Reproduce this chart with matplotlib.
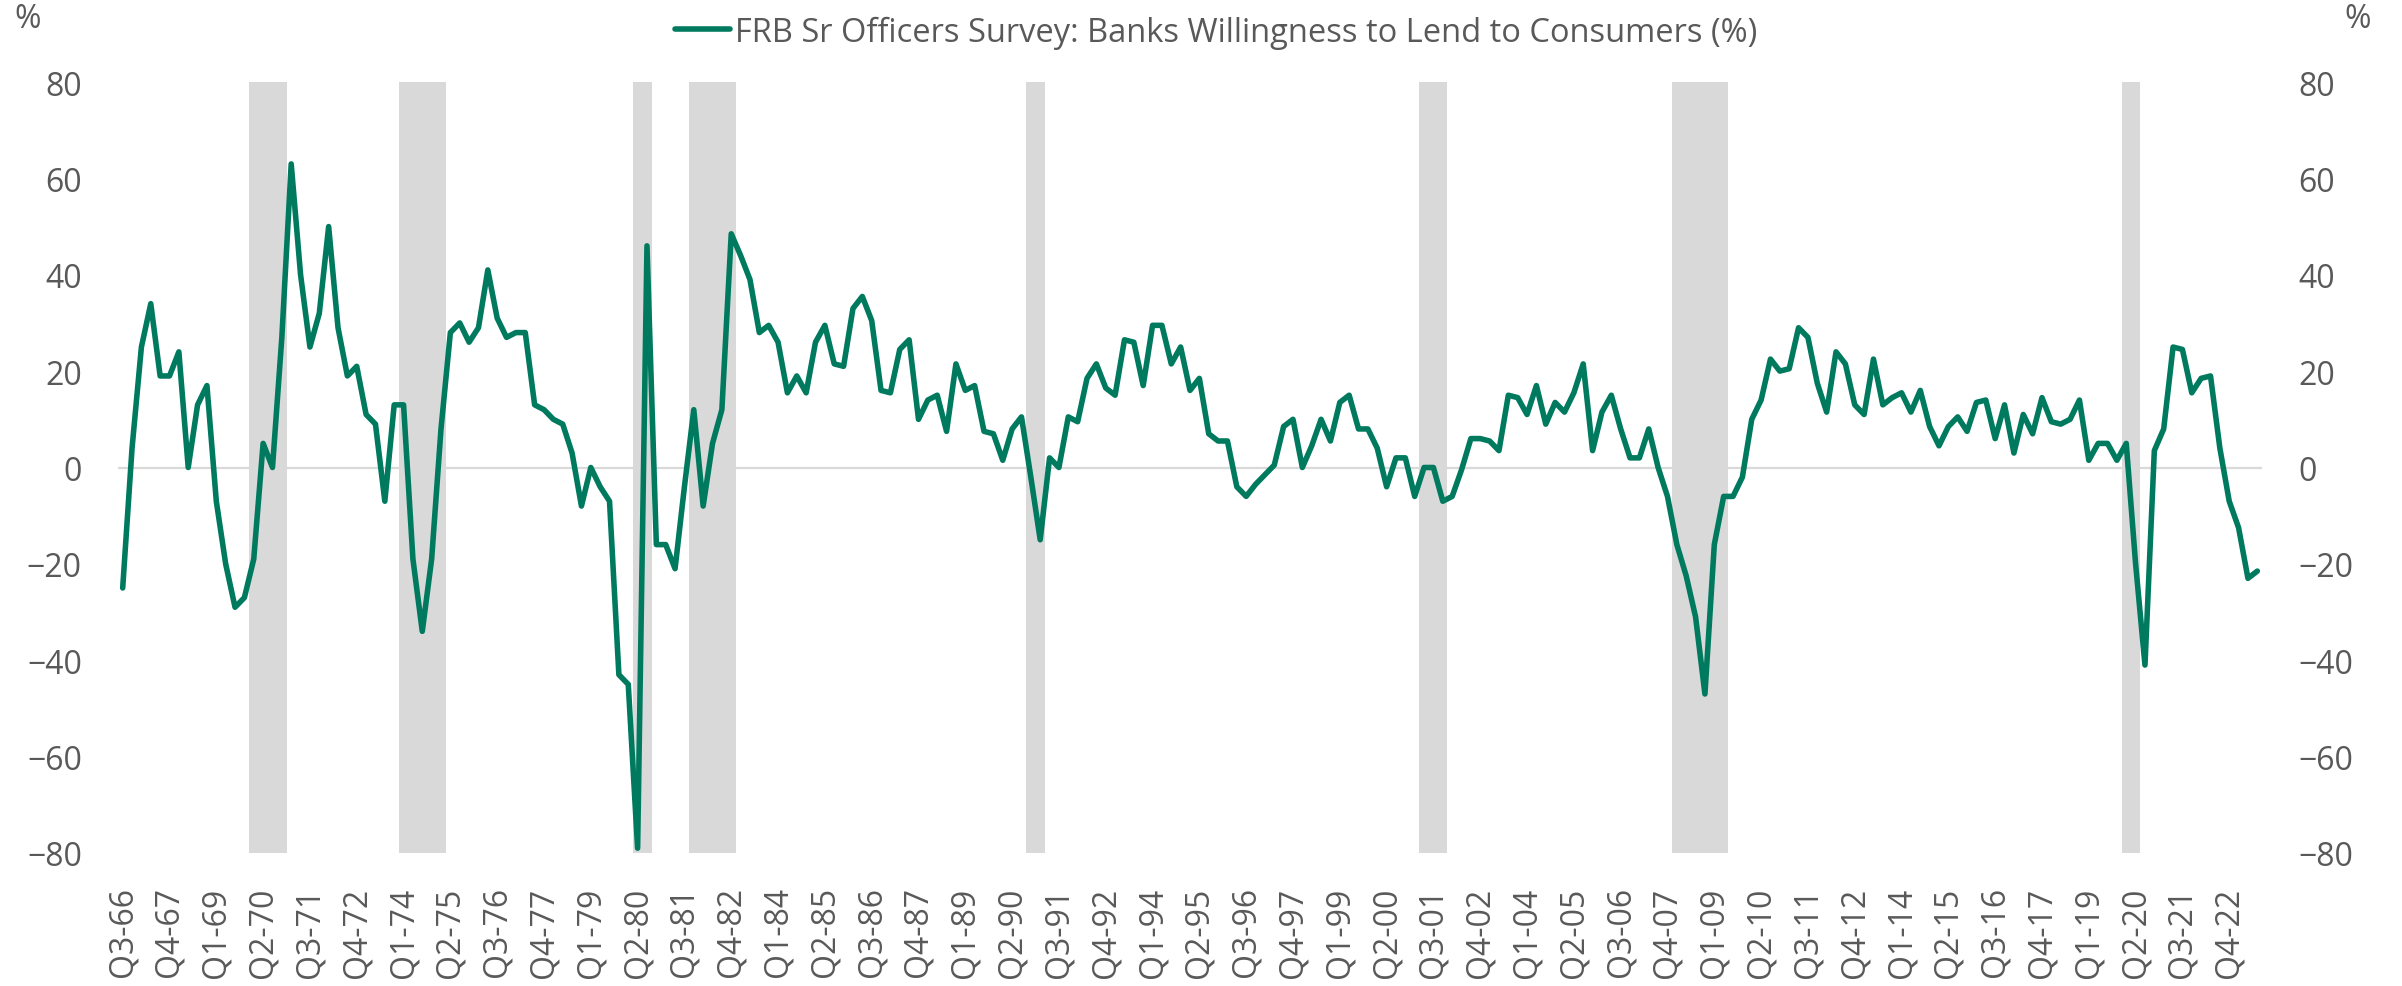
import numpy as np
import matplotlib
matplotlib.use("Agg")
import matplotlib.pyplot as plt

plt.rcParams['font.family'] = ['Open Sans', 'DejaVu Sans']

# quarterly categories Q3-66 .. Q3-23
start_year, start_q = 1966, 3
values = [
    -25, 4, 25, 34, 19, 19, 24, 0, 13, 17,
    -7, -20, -29, -27, -19, 5, 0, 27, 63, 40,
    25, 32, 50, 29, 19, 21, 11, 9, -7, 13,
    13, -19, -34, -19, 8, 28, 30, 26, 29, 41,
    31, 27, 28, 28, 13, 12, 10, 9, 3, -8,
    0, -4, -7, -43, -45, -79, 46, -16, -16, -21,
    -4, 12, -8, 5, 12, 48.5, 44, 39, 28, 29.5,
    26, 15.5, 19, 15.5, 26, 29.5, 21.5, 21, 33, 35.5,
    30.5, 16, 15.5, 24.5, 26.5, 10, 14, 15, 7.5, 21.5,
    16, 17, 7.5, 7, 1.5, 8, 10.5, -2, -15, 2,
    0, 10.5, 9.5, 18.5, 21.5, 16.5, 15, 26.5, 26, 17,
    29.5, 29.5, 21.5, 25, 16, 18.5, 7, 5.5, 5.5, -4,
    -6, -3.5, -1.5, 0.5, 8.5, 10, 0, 4.5, 10, 5.5,
    13.5, 15, 8, 8, 4, -4, 2, 2, -6, 0,
    0, -7, -6, -0.5, 6, 6, 5.5, 3.5, 15, 14.5,
    11, 17, 9, 13.5, 11.5, 15.5, 21.5, 3.5, 11.5, 15,
    8, 2, 2, 8, 0, -6, -16, -22.5, -31, -47,
    -16, -6, -6, -2, 10, 14, 22.5, 20, 20.5, 29,
    27, 17.5, 11.5, 24, 21.5, 13, 11, 22.5, 13, 14.5,
    15.5, 11.5, 16, 8.5, 4.5, 8.5, 10.5, 7.5, 13.5, 14,
    6, 13, 3, 11, 7, 14.5, 9.5, 9, 10, 14,
    1.5, 5, 5, 1.5, 5, -20, -41, 3.5, 8, 25,
    24.5, 15.5, 18.5, 19, 4, -7, -12.5, -23, -21.5,
]

labels = []
y, q = start_year, start_q
for _ in values:
    labels.append(f"Q{q}-{y % 100:02d}")
    q += 1
    if q > 4:
        q = 1
        y += 1

# recession quarters (first, last)
recessions = [
    ("Q1-70", "Q4-70"), ("Q1-74", "Q1-75"), ("Q2-80", "Q3-80"),
    ("Q4-81", "Q4-82"), ("Q4-90", "Q1-91"), ("Q2-01", "Q4-01"),
    ("Q1-08", "Q2-09"), ("Q1-20", "Q2-20"),
]

green = '#007A5E'
grey_txt = '#595959'
shade = '#D9D9D9'

fig = plt.figure(figsize=(24.02, 9.87), dpi=100)
ax = fig.add_axes([118 / 2402, 1 - 854 / 987, (2262 - 118) / 2402, (854 - 83) / 987])

x = np.arange(len(values))
for a, b in recessions:
    i0, i1 = labels.index(a), labels.index(b)
    ax.axvspan(i0 - 0.5, i1 + 0.5, color=shade, lw=0, zorder=0)

ax.axhline(0, color=shade, lw=1.6, zorder=1)
ax.plot(x, values, color=green, lw=4, zorder=3, solid_capstyle='round',
        solid_joinstyle='round',
        label='FRB Sr Officers Survey: Banks Willingness to Lend to Consumers (%)')

ax.set_xlim(-0.5, len(values) - 0.5)
ax.set_ylim(-80, 80)
ax.set_yticks(range(-80, 81, 20))
ax.set_xticks(x[::5])
ax.set_xticklabels(labels[::5], rotation=90)

for s in ax.spines.values():
    s.set_visible(False)
ax.tick_params(axis='y', length=0, labelsize=23, labelcolor=grey_txt, pad=26,
               labelleft=True, labelright=True)
ax.tick_params(axis='x', length=0, labelsize=23, labelcolor=grey_txt, pad=24)

fig.text(28 / 2402, 1 - 20 / 987, '%', fontsize=23, color=grey_txt, ha='center', va='center')
fig.text(2358 / 2402, 1 - 20 / 987, '%', fontsize=23, color=grey_txt, ha='center', va='center')

fig.legend(loc='center', bbox_to_anchor=(1216 / 2402, 1 - 33 / 987), frameon=False,
           fontsize=23.5, labelcolor=grey_txt, handlelength=1.7, handletextpad=0.15)

fig.savefig('out.png', dpi=100)
